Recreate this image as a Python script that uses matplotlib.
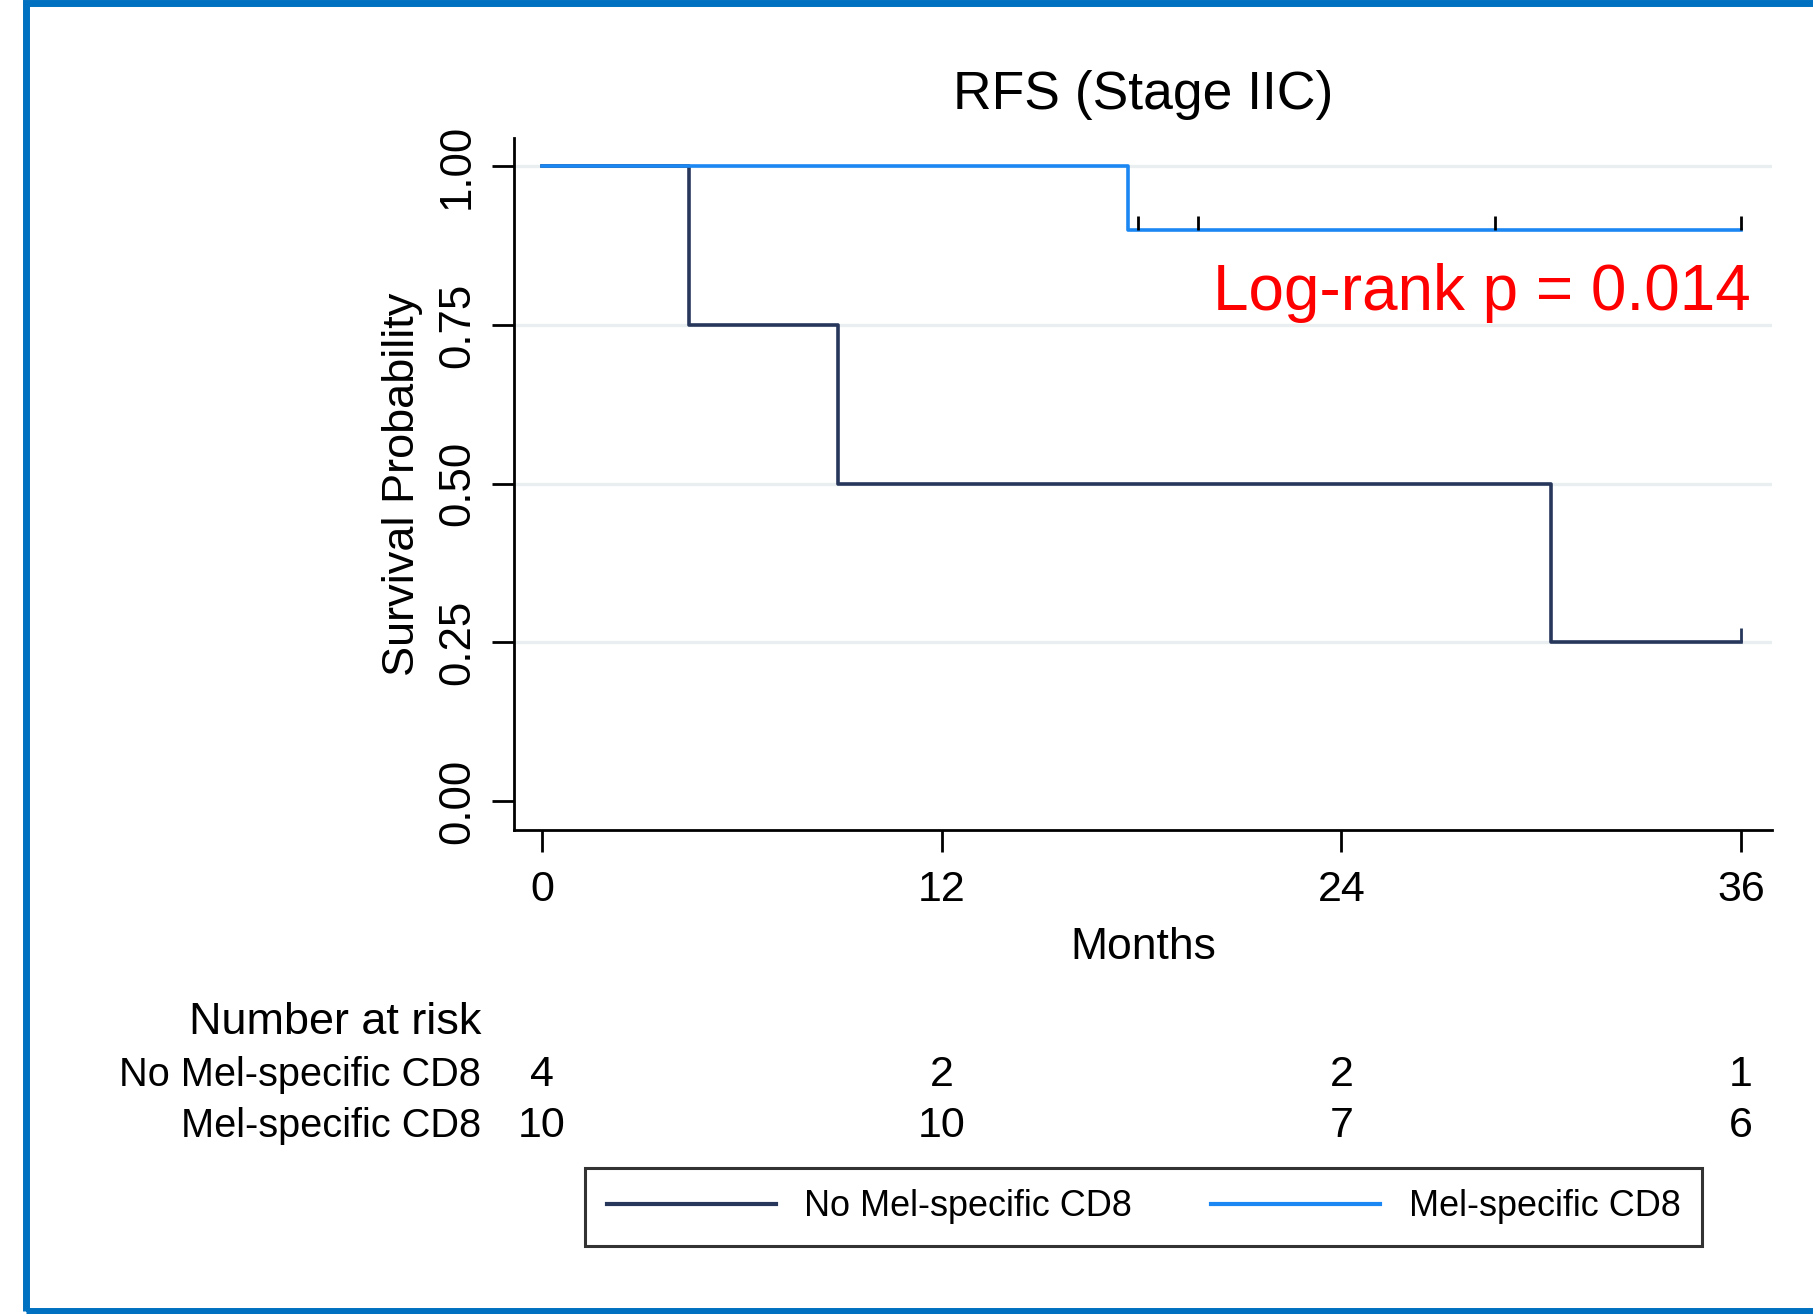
import numpy as np
import matplotlib
matplotlib.use("Agg")
import matplotlib.pyplot as plt
from matplotlib.patches import Rectangle
from matplotlib.transforms import blended_transform_factory

plt.rcParams['font.family'] = ['Liberation Sans', 'DejaVu Sans']

# KM step data
no_mel_times = [0, 4.4, 8.9, 30.3, 36]
no_mel_surv = [1.0, 0.75, 0.5, 0.25, 0.25]
no_mel_censor = [36]
mel_times = [0, 17.6, 36]
mel_surv = [1.0, 0.9, 0.9]
mel_censor = [17.9, 19.7, 28.6, 36]

x_ticks = [0, 12, 24, 36]
y_ticks = [0.0, 0.25, 0.5, 0.75, 1.0]
y_labels = ['0.00', '0.25', '0.50', '0.75', '1.00']
risk_no_mel = [4, 2, 2, 1]
risk_mel = [10, 10, 7, 6]
groups = ['No Mel-specific CD8', 'Mel-specific CD8']

navy = '#27375b'
blue = '#1b87f2'
W, H = 1813, 1314

fig = plt.figure(figsize=(W / 100, H / 100), dpi=100)
ax = fig.add_axes([514 / W, 1 - 830 / H, (1772 - 514) / W, (830 - 138) / H])

for y in y_ticks[1:]:
    ax.axhline(y, color='#e9eff1', lw=2.4, zorder=0)

ax.plot(no_mel_times, no_mel_surv, drawstyle='steps-post', color=navy, lw=2.6, label=groups[0])
ax.plot(mel_times, mel_surv, drawstyle='steps-post', color=blue, lw=2.6, label=groups[1])
ax.vlines(no_mel_censor, 0.25, 0.272, color=navy, lw=2)
ax.vlines(mel_censor, 0.9, 0.922, color='black', lw=2)

ax.set_xlim(-0.84, 36.93)
ax.set_ylim(-0.0457, 1.0449)
ax.set_xticks(x_ticks)
ax.set_yticks(y_ticks)
ax.set_yticklabels(y_labels, rotation=90, va='center')
ax.tick_params(axis='x', length=16, width=2, labelsize=31, pad=13)
ax.tick_params(axis='y', length=16, width=2, labelsize=31.5, pad=10)
for s in ['top', 'right']:
    ax.spines[s].set_visible(False)
for s in ['left', 'bottom']:
    ax.spines[s].set_linewidth(2)

ax.set_ylabel('Survival Probability', fontsize=32.5, labelpad=10)
ax.set_xlabel('Months', fontsize=32, labelpad=12)
ax.set_title('RFS (Stage IIC)', fontsize=38.5, pad=21)

ax.text(36.3, 0.8, 'Log-rank p = 0.014', color='#ff0000', fontsize=46,
        ha='right', va='center')

# number at risk table
tr = blended_transform_factory(ax.transData, fig.transFigure)
fig.text(481 / W, 1 - 1022 / H, 'Number at risk', fontsize=32.4, ha='right', va='center')
rows = [(groups[0], risk_no_mel, 1 - 1075 / H), (groups[1], risk_mel, 1 - 1126 / H)]
for name, vals, yy in rows:
    fig.text(481 / W, yy, name, fontsize=28.6, ha='right', va='center')
    for xv, n in zip(x_ticks, vals):
        ax.text(xv, yy, str(n), transform=tr, fontsize=31, ha='center', va='center')

leg = fig.legend(loc='center', bbox_to_anchor=(585 / W, 1 - 1248 / H, 1117 / W, 82 / H),
                 mode='expand', ncol=2, fontsize=25.9, frameon=True, fancybox=False,
                 handlelength=4.7, handletextpad=0.8, borderpad=0.6, borderaxespad=0)
leg.get_frame().set_edgecolor('black')
leg.get_frame().set_linewidth(2.2)
for ln in leg.get_lines():
    ln.set_linewidth(3)

# blue frame around the figure
fig.add_artist(Rectangle((25.5 / W, 3 / H), 1.1, 1 - 6 / H, transform=fig.transFigure,
                         fill=False, edgecolor='#0070c0', lw=5, clip_on=False))

fig.savefig('out.png', dpi=100)
